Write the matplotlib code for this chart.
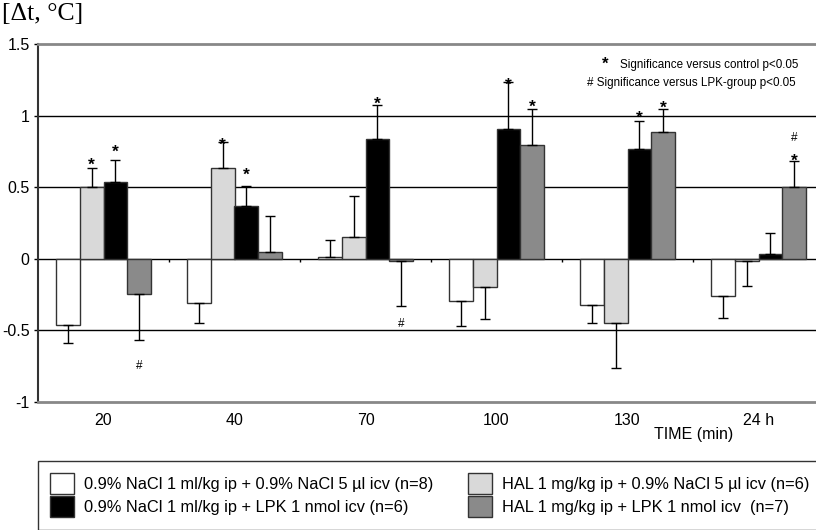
import matplotlib
matplotlib.use("Agg")
import matplotlib.pyplot as plt
from matplotlib.patches import Patch
import numpy as np

plt.rcParams['font.family'] = ['Liberation Sans', 'DejaVu Sans']

# time points
categories = ["20", "40", "70", "100", "130", "24 h"]

# mean change of body temperature per group
control = [-0.46, -0.31, 0.014, -0.296, -0.326, -0.258]
hal = [0.503, 0.636, 0.149, -0.20, -0.45, -0.012]
lpk = [0.533, 0.372, 0.838, 0.905, 0.77, 0.037]
hal_lpk = [-0.245, 0.044, -0.017, 0.798, 0.887, 0.503]

# SEM (drawn away from zero)
control_err = [0.125, 0.135, 0.114, 0.17, 0.124, 0.157]
hal_err = [0.133, 0.18, 0.288, 0.22, 0.311, 0.178]
lpk_err = [0.16, 0.138, 0.235, 0.331, 0.191, 0.14]
hal_lpk_err = [0.325, 0.253, 0.316, 0.245, 0.158, 0.177]

labels = ["0.9% NaCl 1 ml/kg ip + 0.9% NaCl 5 µl icv (n=8)",
          "HAL 1 mg/kg ip + 0.9% NaCl 5 µl icv (n=6)",
          "0.9% NaCl 1 ml/kg ip + LPK 1 nmol icv (n=6)",
          "HAL 1 mg/kg ip + LPK 1 nmol icv  (n=7)"]
colors = ["white", "#d9d9d9", "black", "#8a8a8a"]

# significance marks: (time index, series index, y position)
star_group = [0, 0, 1, 1, 2, 3, 3, 4, 4, 5]
star_series = [1, 2, 1, 2, 2, 2, 3, 2, 3, 3]
star_y = [0.693, 0.784, 0.833, 0.623, 1.12, 1.25, 1.10, 1.02, 1.09, 0.72]
hash_group = [0, 2, 5]
hash_series = [3, 3, 3]
hash_y = [-0.74, -0.45, 0.85]

series = [control, hal, lpk, hal_lpk]
errors = [control_err, hal_err, lpk_err, hal_lpk_err]

fig = plt.figure(figsize=(8.16, 5.30), dpi=100)
ax = fig.add_axes([38 / 816, 1 - 402 / 530, 778 / 816, 358 / 530])

x = np.arange(len(categories))
w = 0.183
offsets = [-1.5, -0.5, 0.5, 1.5]

for yv in [0.5, 1.0, -0.5]:
    ax.axhline(yv, color="black", lw=1, zorder=1)
ax.axhline(0, color="black", lw=1, zorder=1)

handles = []
for i, (vals, errs) in enumerate(zip(series, errors)):
    xs = x + offsets[i] * w
    vals = np.array(vals)
    errs = np.array(errs)
    ax.bar(xs, vals, width=w, color=colors[i], edgecolor="#333333",
           linewidth=1, zorder=3)
    lower = np.where(vals < 0, errs, 0)
    upper = np.where(vals >= 0, errs, 0)
    ax.errorbar(xs, vals, yerr=[lower, upper], fmt="none", ecolor="black",
                elinewidth=1, capsize=3.3, capthick=1, zorder=4)
    handles.append(Patch(facecolor=colors[i], edgecolor="#333333", lw=1))

for g, s, yv in zip(star_group, star_series, star_y):
    ax.annotate("*", (x[g] + offsets[s] * w, yv), xytext=(0, -7.5),
                textcoords="offset points", ha="center", va="baseline",
                fontsize=12.5, fontweight="bold", zorder=5)
for g, s, yv in zip(hash_group, hash_series, hash_y):
    ax.annotate("#", (x[g] + offsets[s] * w, yv), xytext=(0, -3),
                textcoords="offset points", ha="center", va="baseline",
                fontsize=8.5, zorder=5)

# category separator ticks on the zero line
ax.vlines(x[:-1] + 0.5, -0.025, 0, color="black", lw=1, zorder=2)

ax.set_xlim(-0.5, -0.5 + 778 / 131)
ax.set_ylim(-1, 1.5)
ax.set_yticks([-1, -0.5, 0, 0.5, 1, 1.5])
ax.set_yticklabels(["-1", "-0.5", "0", "0.5", "1", "1.5"])
ax.set_xticks(x)
ax.set_xticklabels(categories)
ax.tick_params(axis="x", length=0, pad=8, labelsize=11.5)
ax.tick_params(axis="y", length=3, width=1, pad=3, labelsize=11.5)

ax.spines["left"].set_color("#333333")
ax.spines["left"].set_linewidth(1.5)
ax.spines["top"].set_color("#888888")
ax.spines["top"].set_linewidth(2)
ax.spines["bottom"].set_color("#888888")
ax.spines["bottom"].set_linewidth(2)
ax.spines["right"].set_visible(False)

ax.text(0.977, 0.941, "Significance versus control p<0.05", transform=ax.transAxes,
        ha="right", va="center", fontsize=8.4)
ax.text(0.729, 0.943, "*", transform=ax.transAxes, ha="center", va="center",
        fontsize=12, fontweight="bold")
ax.text(0.974, 0.891, "# Significance versus LPK-group p<0.05", transform=ax.transAxes,
        ha="right", va="center", fontsize=8.4)

fig.text(0.003, 0.995, "[Δt, °C]", ha="left", va="top", fontsize=18.5,
         family=["Liberation Serif", "DejaVu Serif"])
fig.text(694 / 816, 1 - 434 / 530, "TIME (min)", ha="center", va="center", fontsize=11.5)

order = [0, 2, 1, 3]
leg = fig.legend([handles[k] for k in order], [labels[k] for k in order],
                 ncol=2, loc="upper left",
                 bbox_to_anchor=(38 / 816, 1 - 461 / 530),
                 fontsize=11.8, frameon=True, fancybox=False,
                 edgecolor="black", handlelength=1.45, handleheight=1.6,
                 handletextpad=0.6, labelspacing=0.12, borderpad=0.75,
                 columnspacing=2.15, borderaxespad=0)
leg.get_frame().set_linewidth(1)

fig.savefig("out.png", dpi=100)
